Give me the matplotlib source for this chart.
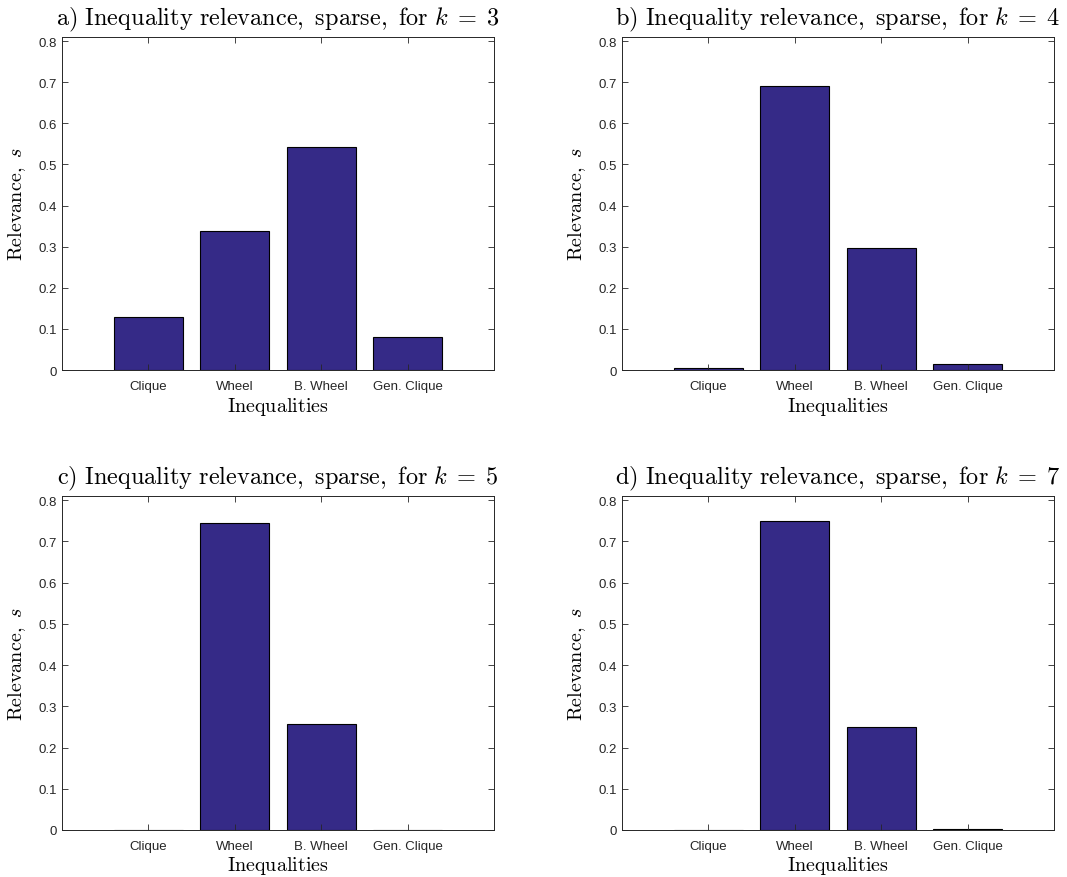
import matplotlib
matplotlib.use('Agg')
import matplotlib.pyplot as plt
import numpy as np

plt.rcParams['mathtext.fontset'] = 'cm'
plt.rcParams['font.family'] = ['Liberation Sans', 'DejaVu Sans']

categories = ['Clique', 'Wheel', 'B. Wheel', 'Gen. Clique']
k_values = [3, 4, 5, 7]
panel_letters = ['a', 'b', 'c', 'd']
rel_k3 = [0.128, 0.338, 0.543, 0.080]
rel_k4 = [0.005, 0.692, 0.297, 0.015]
rel_k5 = [0.0, 0.745, 0.258, 0.0]
rel_k7 = [0.0, 0.749, 0.251, 0.003]
all_rel = [rel_k3, rel_k4, rel_k5, rel_k7]

bar_color = '#352A87'
axis_color = '#262626'

fig = plt.figure(figsize=(10.67, 8.78), dpi=100)

# axes boxes in pixels: left, right, top, bottom
boxes = [(62, 494, 38, 371), (622, 1054, 38, 371),
         (62, 494, 497, 831), (622, 1054, 497, 831)]
W, H = 1067, 878

for i in range(4):
    l, r, t, b = boxes[i]
    ax = fig.add_axes([l / W, 1 - b / H, (r - l) / W, (b - t) / H])
    x = np.arange(1, len(categories) + 1)
    ax.bar(x, all_rel[i], width=0.8, color=bar_color, edgecolor='black', linewidth=0.8)
    ax.set_xlim(0, 5)
    ax.set_ylim(0, 0.81)
    ax.set_xticks(x)
    ax.set_xticklabels(categories, fontsize=9.5)
    ax.set_yticks(np.arange(0, 0.81, 0.1))
    ax.set_yticklabels(['0'] + ['%.1f' % v for v in np.arange(0.1, 0.81, 0.1)], fontsize=9.5)
    ax.tick_params(direction='in', top=True, right=True, length=4, width=0.6,
                   colors=axis_color, labelcolor=axis_color)
    ax.tick_params(axis='x', pad=7)
    for s in ax.spines.values():
        s.set_color(axis_color)
        s.set_linewidth(0.7)
    ax.set_title(r'$\mathrm{%s)\ Inequality\ relevance,\ sparse,\ for\ }k\;=\;%d$'
                 % (panel_letters[i], k_values[i]), fontsize=17.5, pad=9)
    ax.set_xlabel(r'$\mathrm{Inequalities}$', fontsize=14.5, labelpad=2)
    ax.set_ylabel(r'$\mathrm{Relevance,}\ s$', fontsize=14.5, labelpad=8)

fig.savefig('out.png', dpi=100)
